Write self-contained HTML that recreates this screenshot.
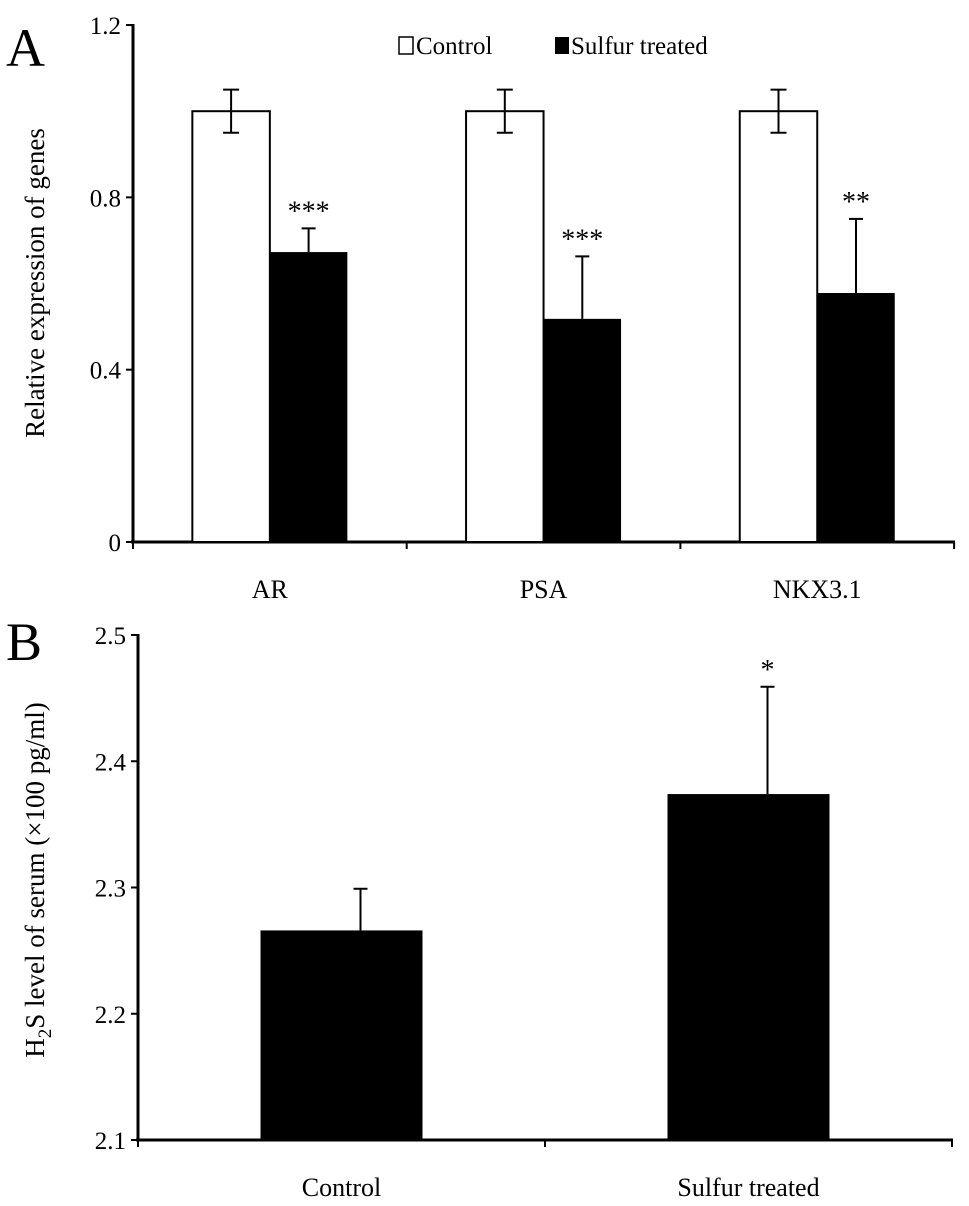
<!DOCTYPE html>
<html><head><meta charset="utf-8"><style>
html,body{margin:0;padding:0;background:#fff;}
svg{display:block;font-family:"Liberation Serif",serif;}
</style></head><body>
<svg id="chart" width="969" height="1206" viewBox="0 0 969 1206"></svg>
<script>
const genesA = ["AR","PSA","NKX3.1"];
const controlA = [1.0, 1.0, 1.0];
const controlErrA = [0.05, 0.05, 0.05];
const treatedA = [0.673, 0.518, 0.578];
const treatedErrA = [0.055, 0.145, 0.172];
const sigA = ["***","***","**"];
const ticksA = [0, 0.4, 0.8, 1.2];
const tickLabelsA = ["0","0.4","0.8","1.2"];

const groupsB = ["Control","Sulfur treated"];
const valuesB = [2.266, 2.374];
const errB = [0.033, 0.085];
const sigB = ["","*"];
const ticksB = [2.1, 2.2, 2.3, 2.4, 2.5];
const tickLabelsB = ["2.1","2.2","2.3","2.4","2.5"];

const svg = document.getElementById('chart');
const NS = "http://www.w3.org/2000/svg";
function mk(tag, attrs, name, text){
  const e = document.createElementNS(NS, tag);
  for (const k in attrs) e.setAttribute(k, attrs[k]);
  
  
  if (text !== undefined) e.textContent = text;
  svg.appendChild(e);
  return e;
}
const yA = v => 542 - v * 430.8;
const xA0 = 133, catW = 273.7;
mk('line',{x1:xA0,y1:24,x2:xA0,y2:542,stroke:'#000','stroke-width':3},'y-axis-a');
mk('line',{x1:xA0-2,y1:542,x2:955,y2:542,stroke:'#000','stroke-width':3},'x-axis-a');
ticksA.forEach((t,i)=>{
  mk('line',{x1:xA0-7,y1:yA(t),x2:xA0,y2:yA(t),stroke:'#000','stroke-width':2},'y-tick-a');
  mk('text',{x:xA0-12,y:yA(t)+9,'text-anchor':'end','font-size':25},'y-tick-label-a',tickLabelsA[i]);
});
for(let i=0;i<=genesA.length;i++){
  mk('line',{x1:xA0+i*catW,y1:542,x2:xA0+i*catW,y2:549,stroke:'#000','stroke-width':2},'x-tick-a');
}
genesA.forEach((g,i)=>{
  const c = xA0 + (i+0.5)*catW;
  mk('text',{x:c,y:598,'text-anchor':'middle','font-size':26},'x-label-'+g.toLowerCase(),g);
  const bw = 77.5;
  mk('rect',{x:c-bw,y:yA(controlA[i]),width:bw,height:542-yA(controlA[i]),fill:'#fff',stroke:'#000','stroke-width':2},'bar-control-'+g.toLowerCase());
  mk('rect',{x:c,y:yA(treatedA[i]),width:bw,height:542-yA(treatedA[i]),fill:'#000'},'bar-treated-'+g.toLowerCase());
  const cx = c-bw/2;
  mk('line',{x1:cx,y1:yA(controlA[i]+controlErrA[i]),x2:cx,y2:yA(controlA[i]-controlErrA[i]),stroke:'#000','stroke-width':2},'error-bar-control');
  [controlA[i]+controlErrA[i],controlA[i]-controlErrA[i]].forEach(v=>mk('line',{x1:cx-8,y1:yA(v),x2:cx+8,y2:yA(v),stroke:'#000','stroke-width':2},'error-cap-control'));
  const tx = c+bw/2;
  mk('line',{x1:tx,y1:yA(treatedA[i]+treatedErrA[i]),x2:tx,y2:yA(treatedA[i]),stroke:'#000','stroke-width':2},'error-bar-treated');
  mk('line',{x1:tx-7,y1:yA(treatedA[i]+treatedErrA[i]),x2:tx+7,y2:yA(treatedA[i]+treatedErrA[i]),stroke:'#000','stroke-width':2},'error-cap-treated');
  mk('text',{x:tx,y:yA(treatedA[i]+treatedErrA[i])-8,'text-anchor':'middle','font-size':28},'significance-a',sigA[i]);
});
mk('text',{x:6,y:66,'font-size':54},'panel-label-a','A');
mk('text',{x:0,y:0,'font-size':27,'text-anchor':'middle',transform:'translate(44,283) rotate(-90)'},'y-axis-title-a','Relative expression of genes');
mk('rect',{x:399,y:37,width:14,height:17,fill:'#fff',stroke:'#000','stroke-width':1.5},'legend-swatch-control');
mk('text',{x:416,y:54,'font-size':25},'legend-control','Control');
mk('rect',{x:555,y:37,width:14,height:17,fill:'#000'},'legend-swatch-treated');
mk('text',{x:571,y:54,'font-size':25},'legend-treated','Sulfur treated');

const yB = v => 1140 - (v-2.1) * 1262.5;
const xB0 = 138, catWB = 407;
mk('line',{x1:xB0,y1:634,x2:xB0,y2:1140,stroke:'#000','stroke-width':3},'y-axis-b');
mk('line',{x1:xB0-2,y1:1140,x2:953,y2:1140,stroke:'#000','stroke-width':3},'x-axis-b');
ticksB.forEach((t,i)=>{
  mk('line',{x1:xB0-7,y1:yB(t),x2:xB0,y2:yB(t),stroke:'#000','stroke-width':2},'y-tick-b');
  mk('text',{x:xB0-12,y:yB(t)+9,'text-anchor':'end','font-size':25},'y-tick-label-b',tickLabelsB[i]);
});
for(let i=0;i<=groupsB.length;i++){
  mk('line',{x1:xB0+i*catWB,y1:1140,x2:xB0+i*catWB,y2:1147,stroke:'#000','stroke-width':2},'x-tick-b');
}
groupsB.forEach((g,i)=>{
  const c = xB0 + (i+0.5)*catWB;
  mk('text',{x:c,y:1196,'text-anchor':'middle','font-size':26},'x-label-b',g);
  mk('rect',{x:c-81,y:yB(valuesB[i]),width:162,height:1140-yB(valuesB[i]),fill:'#000'},'bar-b');
  const top = yB(valuesB[i]+errB[i]);
  mk('line',{x1:c+19,y1:top,x2:c+19,y2:yB(valuesB[i]),stroke:'#000','stroke-width':2},'error-bar-b');
  mk('line',{x1:c+12,y1:top,x2:c+26,y2:top,stroke:'#000','stroke-width':2},'error-cap-b');
  if(sigB[i]) mk('text',{x:c+19,y:top-8,'text-anchor':'middle','font-size':28},'significance-b',sigB[i]);
});
mk('text',{x:6,y:660,'font-size':54},'panel-label-b','B');
const t = mk('text',{x:0,y:0,'font-size':27,'text-anchor':'middle',transform:'translate(44,880) rotate(-90)'},'y-axis-title-b');
t.innerHTML = 'H<tspan font-size="19" dy="7">2</tspan><tspan dy="-7">S level of serum (×100 pg/ml)</tspan>';
</script>
</body></html>
